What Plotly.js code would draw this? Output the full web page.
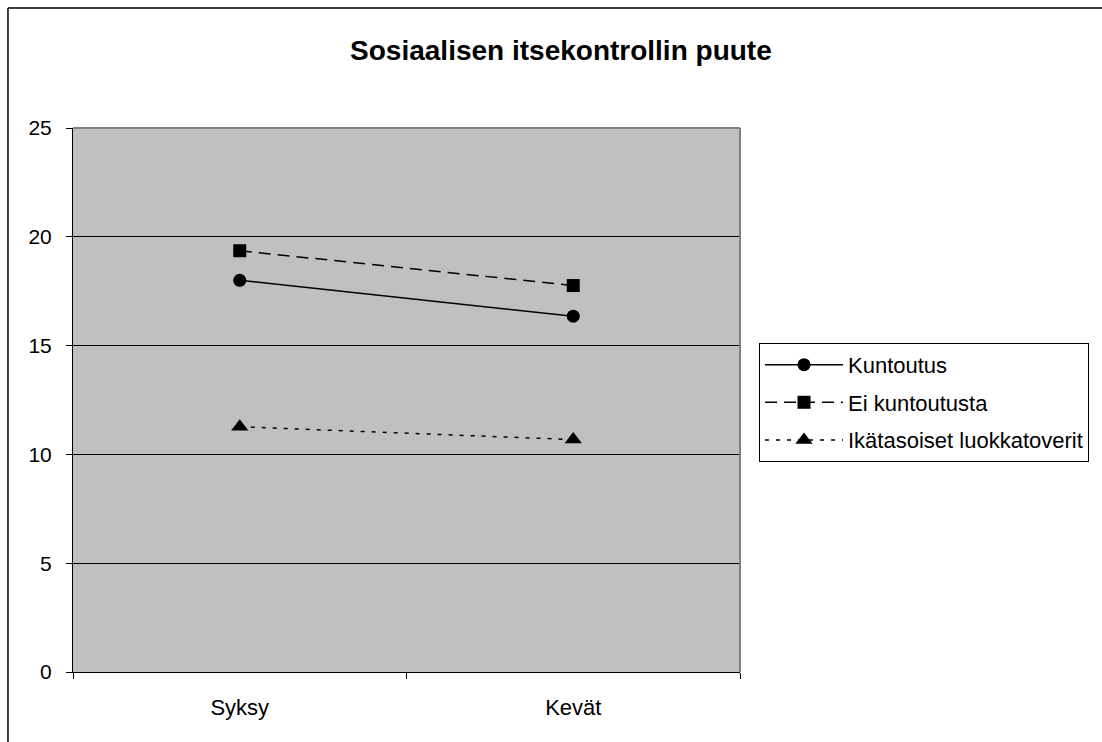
<!DOCTYPE html>
<html>
<head>
<meta charset="utf-8">
<script src="https://cdn.plot.ly/plotly-3.0.1.min.js"></script>
<style>
  html, body { margin: 0; padding: 0; background: #ffffff; }
  #chart { width: 1102px; height: 742px; }
</style>
</head>
<body>
<div id="chart"></div>
<script>
// Mittauskerrat
const categories = ['Syksy', 'Kevät'];

// Ryhmien keskiarvot
const kuntoutus = [18.0, 16.35];
const eiKuntoutusta = [19.36, 17.76];
const ikatasoiset = [11.27, 10.68];

const seriesNames = ['Kuntoutus', 'Ei kuntoutusta', 'Ikätasoiset luokkatoverit'];
const yTicks = [0, 5, 10, 15, 20, 25];

const FONT = 'Liberation Sans, Arial, sans-serif';

const traces = [
  {
    x: categories, y: kuntoutus, name: seriesNames[0], legendgroup: 'a',
    type: 'scatter', mode: 'lines+markers',
    line: { color: '#000000', width: 1.5, dash: 'solid' },
    marker: { symbol: 'circle', size: 13, color: '#000000' }
  },
  {
    x: categories, y: eiKuntoutusta, name: seriesNames[1], legendgroup: 'b',
    type: 'scatter', mode: 'lines+markers',
    line: { color: '#000000', width: 1.5, dash: '12px,7px' },
    marker: { symbol: 'square', size: 13, color: '#000000' }
  },
  {
    x: categories, y: ikatasoiset, name: seriesNames[2], legendgroup: 'c',
    type: 'scatter', mode: 'lines+markers',
    line: { color: '#000000', width: 1.5, dash: '4px,7px' },
    marker: { symbol: 'triangle-up', size: 15, color: '#000000' }
  }
];

const layout = {
  width: 1102,
  height: 742,
  margin: { l: 73, r: 362, t: 128, b: 70, pad: 0 },
  paper_bgcolor: '#ffffff',
  plot_bgcolor: '#c0c0c0',
  font: { family: FONT, size: 22, color: '#000000' },
  title: {
    text: '<b>Sosiaalisen itsekontrollin puute</b>',
    font: { family: FONT, size: 28, color: '#000000' },
    x: 0.509, xref: 'container', xanchor: 'center',
    y: 0.933, yref: 'container', yanchor: 'middle'
  },
  xaxis: {
    type: 'category',
    range: [-0.5, 1.5],
    showgrid: false,
    zeroline: false,
    showline: true, linecolor: '#000000', linewidth: 1,
    ticks: 'outside', tickson: 'boundaries', ticklen: 6, tickcolor: '#000000', tickwidth: 1,
    tickfont: { family: FONT, size: 22, color: '#000000' },
    ticklabelstandoff: 16,
    fixedrange: true
  },
  yaxis: {
    range: [0, 25],
    tickvals: yTicks,
    ticktext: yTicks.map(String),
    showgrid: true, gridcolor: '#000000', gridwidth: 1,
    zeroline: false,
    showline: true, linecolor: '#000000', linewidth: 1,
    ticks: 'outside', ticklen: 6, tickcolor: '#000000', tickwidth: 1,
    tickfont: { family: FONT, size: 21, color: '#000000' },
    ticklabelstandoff: 10,
    fixedrange: true
  },
  legend: {
    x: 1.0285, xanchor: 'left',
    y: 0.605, yanchor: 'top',
    bgcolor: '#ffffff',
    bordercolor: '#000000', borderwidth: 1,
    font: { family: FONT, size: 22, color: '#000000' },
    itemwidth: 78,
    tracegroupgap: 6
  },
  showlegend: true,
  shapes: [
    // plot area frame (top and right edges, grey)
    { type: 'line', xref: 'paper', yref: 'paper', x0: 0, x1: 1, y0: 1, y1: 1,
      line: { color: '#808080', width: 2 }, layer: 'above' },
    { type: 'line', xref: 'paper', yref: 'paper', x0: 1, x1: 1, y0: 0, y1: 1,
      line: { color: '#808080', width: 2 }, layer: 'above' },
    // chart area frame
    { type: 'line', xref: 'paper', yref: 'paper', x0: -0.0975, x1: 1.6, y0: 1.2206, y1: 1.2206,
      line: { color: '#000000', width: 1.5 } },
    { type: 'line', xref: 'paper', yref: 'paper', x0: -0.0975, x1: -0.0975, y0: -0.2, y1: 1.2206,
      line: { color: '#000000', width: 1.5 } }
  ]
};

Plotly.newPlot('chart', traces, layout, { displayModeBar: false, staticPlot: true });
</script>
</body>
</html>
